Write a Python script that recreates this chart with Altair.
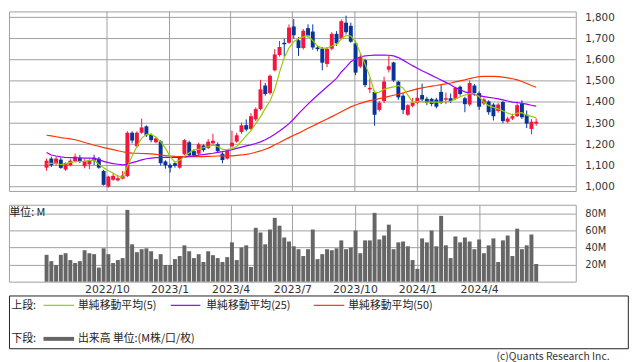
import altair as alt
import pandas as pd

# ---------------- data (weekly candles) ----------------
dates = pd.date_range("2022-07-04", periods=104, freq="7D").strftime("%Y-%m-%d").tolist()

opens = [1090,1133,1108,1128,1081,1101,1121,1135,1097,1106,
         1137,1133,1074,1000,1033,1030,1038,1050,1255,1191,
         1255,1285,1245,1210,1214,1119,1103,1111,1090,1153,
         1210,1168,1156,1195,1183,1205,1201,1156,1133,1191,
         1213,1258,1291,1273,1318,1367,1478,1442,1550,1622,
         1680,1680,1757,1692,1655,1749,1733,1658,1653,1580,
         1652,1722,1700,1775,1760,1677,1568,1598,1460,1448,
         1363,1405,1553,1587,1496,1430,1340,1382,1397,1433,
         1415,1415,1412,1448,1411,1418,1415,1472,1418,1388,
         1478,1442,1393,1403,1388,1358,1400,1307,1322,1333,
         1393,1340,1273,1298]
highs = [1133,1142,1142,1138,1115,1130,1156,1150,1130,1130,
         1151,1140,1080,1052,1063,1056,1074,1262,1262,1262,
         1322,1290,1252,1235,1220,1125,1110,1118,1145,1225,
         1218,1175,1208,1200,1225,1250,1210,1163,1178,1265,
         1255,1303,1318,1348,1375,1505,1490,1530,1650,1688,
         1700,1767,1792,1707,1745,1767,1767,1665,1660,1660,
         1730,1735,1790,1808,1775,1690,1627,1605,1512,1455,
         1405,1520,1620,1590,1500,1440,1390,1420,1467,1487,
         1425,1420,1420,1480,1445,1440,1470,1478,1425,1502,
         1485,1450,1420,1408,1395,1395,1405,1330,1345,1395,
         1408,1360,1320,1322]
lows = [1075,1093,1100,1085,1075,1096,1115,1112,1087,1083,
        1102,1085,1005,996,1028,1025,1035,1045,1205,1185,
        1250,1235,1210,1205,1100,1085,1067,1090,1085,1148,
        1140,1140,1150,1165,1178,1200,1160,1111,1128,1185,
        1208,1250,1262,1268,1310,1360,1430,1435,1545,1615,
        1615,1675,1700,1618,1648,1705,1647,1640,1550,1565,
        1645,1665,1695,1720,1680,1527,1560,1470,1442,1288,
        1355,1395,1540,1495,1410,1343,1335,1375,1390,1405,
        1385,1380,1370,1390,1390,1395,1410,1430,1352,1380,
        1430,1363,1385,1340,1313,1350,1300,1300,1315,1330,
        1320,1277,1247,1288]
closes = [1123,1101,1133,1089,1112,1123,1142,1119,1121,1126,
          1123,1090,1009,1048,1051,1040,1053,1255,1218,1255,
          1280,1243,1220,1228,1111,1101,1090,1099,1138,1220,
          1148,1148,1201,1173,1213,1217,1168,1126,1171,1208,
          1243,1290,1270,1333,1367,1460,1438,1524,1625,1660,
          1673,1752,1716,1655,1737,1714,1658,1650,1586,1652,
          1722,1677,1782,1730,1685,1539,1613,1480,1467,1340,
          1397,1497,1569,1502,1422,1363,1385,1397,1420,1412,
          1397,1391,1378,1397,1418,1405,1467,1438,1390,1490,
          1442,1378,1412,1352,1333,1388,1310,1322,1333,1385,
          1328,1298,1307,1307]
volumes = [31.4,24,19.5,31.4,33.3,25.3,21.8,24,36.8,33.3,
           32.2,16.5,39,32.2,21.8,25.3,27.6,84,43.7,34.5,
           38,39,35.6,26.4,32.2,19.5,19.5,26.4,30,42.5,
           35.6,27.6,32.2,23,35.6,31,27.6,23,28.7,46,
           25.3,40,42.5,17.2,63,57.5,43.7,61,74.7,65.5,
           51.7,47,41.4,38,30,38,61,26.4,32.2,38,
           36.8,39,48.3,38,40,59.8,33.3,48.3,48.3,80.5,
           49.4,54,66.7,38,46,47,41.4,25.3,15,50.6,
           46,59.8,41.4,77,42.5,27.6,52.9,46,51.7,47,
           38,49.4,33.3,42.5,50.6,23,48.3,54,30,62,
           38,42.5,55.2,20.7]
ma5 = [1108,1110,1112,1104,1108,1115,1118,1120,1121,1123,
       1127,1105,1090,1075,1065,1048,1045,1095,1145,1190,
       1230,1247,1247,1235,1212,1182,1142,1115,1125,1142,
       1160,1175,1176,1185,1190,1196,1190,1176,1175,1180,
       1190,1215,1240,1265,1298,1330,1370,1405,1460,1540,
       1610,1655,1685,1700,1708,1715,1690,1665,1655,1655,
       1665,1672,1698,1715,1712,1685,1630,1580,1520,1445,
       1447,1460,1467,1472,1478,1467,1433,1400,1402,1402,
       1400,1400,1400,1400,1402,1403,1415,1425,1433,1440,
       1440,1425,1400,1383,1375,1368,1358,1348,1340,1348,
       1350,1338,1332,1325]
ma25 = [1162,1150,1145,1141,1138,1137,1136,1136,1135,1135,
        1134,1128,1120,1114,1109,1106,1103,1106,1114,1120,
        1127,1132,1135,1137,1138,1139,1139,1138,1138,1140,
        1143,1146,1149,1152,1155,1158,1162,1166,1170,1175,
        1181,1187,1193,1198,1204,1212,1222,1234,1248,1263,
        1280,1298,1320,1345,1368,1390,1412,1432,1452,1472,
        1492,1512,1542,1565,1590,1603,1613,1618,1620,1622,
        1622,1622,1621,1618,1610,1598,1585,1572,1560,1548,
        1537,1526,1515,1504,1493,1482,1468,1458,1448,1442,
        1436,1430,1426,1422,1419,1415,1410,1405,1400,1398,
        1394,1390,1385,1381]
ma50 = [1243,1240,1236,1232,1229,1226,1222,1216,1209,1203,
        1196,1191,1185,1180,1175,1170,1165,1161,1159,1158,
        1157,1156,1155,1153,1150,1147,1145,1143,1142,1142,
        1142,1142,1142,1142,1143,1144,1145,1146,1146,1146,
        1148,1150,1153,1157,1163,1169,1177,1186,1198,1209,
        1221,1232,1243,1253,1264,1276,1287,1298,1309,1320,
        1331,1342,1354,1366,1377,1386,1394,1401,1407,1411,
        1416,1421,1427,1432,1437,1443,1450,1456,1462,1467,
        1471,1475,1478,1482,1486,1490,1495,1500,1505,1511,
        1516,1520,1521,1521,1521,1520,1518,1514,1510,1505,
        1497,1488,1478,1470]

tick_labels = ["2022/10", "2023/1", "2023/4", "2023/7", "2023/10", "2024/1", "2024/4"]
price_ticks = [1000, 1100, 1200, 1300, 1400, 1500, 1600, 1700, 1800]
vol_ticks = [20, 40, 60, 80]

legend_top = "上段:"
legend_bottom = "下段:"
ma_names = ["単純移動平均(5)", "単純移動平均(25)", "単純移動平均(50)"]
vol_name = "出来高 単位:(M株/口/枚)"
unit_label = "単位: M"
copyright_text = "(c)Quants Research Inc."

# ---------------- styles ----------------
RED = "#f5143c"
BLUE = "#06349a"
C5 = "#99cc00"
C25 = "#9900ff"
C50 = "#ff3300"
GRID = "#a0a0a0"
JP = "Noto Sans CJK JP"
NUMF = "DejaVu Sans"

df = pd.DataFrame({"date": dates, "open": opens, "high": highs, "low": lows,
                   "close": closes, "volume": volumes,
                   "ma5": ma5, "ma25": ma25, "ma50": ma50})
df["dir"] = ["up" if c >= o else "down" for o, c in zip(opens, closes)]

tick_dates = ["%s-%02d-01" % (t.split("/")[0], int(t.split("/")[1])) for t in tick_labels]
tick_vals = [alt.DateTime(year=int(t.split("/")[0]), month=int(t.split("/")[1]), date=1, utc=True)
             for t in tick_labels]
x_dom = [alt.DateTime(year=2022, month=5, date=16, hours=21, minutes=50, utc=True),
         alt.DateTime(year=2024, month=8, date=14, utc=True)]
xscale = alt.Scale(type="utc", domain=x_dom)
pscale = alt.Scale(domain=[980, 1828], nice=False, zero=False)

W, H1, H2 = 574.7, 182, 78

base = alt.Chart(df)

# ---------------- price panel ----------------
px_axis = alt.Axis(values=tick_vals, grid=False, labels=False, ticks=False,
                   domain=False, title=None)
py_axis = alt.Axis(orient="right", values=price_ticks, format=",d", grid=False,
                   ticks=False, domain=False, labelPadding=9,
                   title=None, labelFont=NUMF, labelFontSize=10.5, labelColor="#333")


def X(field="date:T"):
    return alt.X(field, scale=xscale, axis=px_axis)


def Y(field):
    return alt.Y(field, scale=pscale, axis=py_axis)


color = alt.Color("dir:N", scale=alt.Scale(domain=["up", "down"], range=[RED, BLUE]), legend=None)

hgrid = alt.Chart(pd.DataFrame({"p": price_ticks})).mark_rule(color=GRID, strokeWidth=1).encode(
    y=Y("p:Q"))
vgrid = alt.Chart(pd.DataFrame({"d": tick_dates})).mark_rule(color=GRID, strokeWidth=1).encode(
    x=X("d:T"))
wicks = base.mark_rule(strokeWidth=1).encode(x=X(), y=Y("low:Q"), y2="high:Q", color=color)
bodies = base.mark_bar(size=4).encode(x=X(), y=Y("open:Q"), y2="close:Q", color=color)
l50 = base.mark_line(color=C50, strokeWidth=1.2).encode(x=X(), y=Y("ma50:Q"))
l25 = base.mark_line(color=C25, strokeWidth=1.2).encode(x=X(), y=Y("ma25:Q"))
l5 = base.mark_line(color=C5, strokeWidth=1.2).encode(x=X(), y=Y("ma5:Q"))

price = alt.layer(hgrid, vgrid, wicks, bodies, l50, l25, l5).properties(width=W, height=H1)

# ---------------- volume panel ----------------
vbars = base.mark_bar(size=4, color="#666666").encode(
    x=alt.X("date:T", scale=xscale,
            axis=alt.Axis(values=tick_vals, format="%Y/%-m", grid=True, gridColor=GRID,
                          ticks=False, domain=False, labelPadding=2, title=None,
                          labelFont=NUMF, labelFontSize=11, labelColor="#333")),
    y=alt.Y("volume:Q", scale=alt.Scale(domain=[0, 90], nice=False),
            axis=alt.Axis(orient="right", values=vol_ticks, labelExpr="datum.value + 'M'",
                          grid=True, gridColor=GRID, ticks=False, domain=False,
                          labelPadding=9, title=None, labelFont=NUMF, labelFontSize=10,
                          labelColor="#333")),
)

one = pd.DataFrame({"k": [0]})


def txt(s, x, y, align="left", size=11, color="#222", font=JP):
    return alt.Chart(one).mark_text(align=align, baseline="middle", font=font,
                                    fontSize=size, color=color).encode(
        x=alt.value(x), y=alt.value(y), text=alt.value(s))


def hline(x1, x2, y, c, w):
    return alt.Chart(one).mark_rule(color=c, strokeWidth=w).encode(
        x=alt.value(x1), x2=alt.value(x2), y=alt.value(y))


box = alt.Chart(one).mark_rect(fill="white", fillOpacity=0, stroke="#222", strokeWidth=1).encode(
    x=alt.value(0.5), x2=alt.value(628), y=alt.value(92.5), y2=alt.value(146))

decor = [
    txt(unit_label, 0.5, 8.5),
    box,
    txt(legend_top, 2.5, 102.5),
    hline(35, 66, 102, C5, 1.2),
    txt(ma_names[0], 70, 102.5),
    hline(164, 194, 102, C25, 1.2),
    txt(ma_names[1], 200, 102.5),
    hline(309, 340, 102, C50, 1.2),
    txt(ma_names[2], 344, 102.5),
    txt(legend_bottom, 2.5, 136),
    hline(35, 66, 136, "#666666", 4),
    txt(vol_name, 70, 136),
    txt(copyright_text, 609, 154.5, align="right", color="#333", size=10.5),
]

volume = alt.layer(vbars, *decor).properties(width=W, height=H2)

chart = alt.vconcat(price, volume, spacing=11).properties(
    padding={"left": 0, "top": 0, "right": 0, "bottom": 0},
    background="white",
).configure_view(stroke=GRID, strokeWidth=1)

chart.save("out.html", embed_options={"renderer": "svg", "actions": False})
